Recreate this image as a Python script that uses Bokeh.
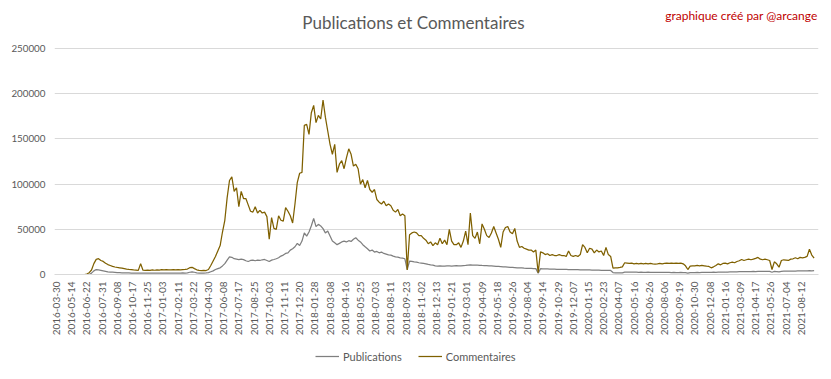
from bokeh.plotting import figure
from bokeh.layouts import column
from bokeh.models import Range1d, FixedTicker, Label, Legend, LegendItem, NumeralTickFormatter
from bokeh.embed import file_html
from bokeh.resources import INLINE
import math

# ---------------- data ----------------
tick_labels = [
    "2016-03-30", "2016-05-14", "2016-06-22", "2016-07-31", "2016-09-08", "2016-10-17",
    "2016-11-25", "2017-01-03", "2017-02-11", "2017-03-22", "2017-04-30", "2017-06-08",
    "2017-07-17", "2017-08-25", "2017-10-03", "2017-11-11", "2017-12-20", "2018-01-28",
    "2018-03-08", "2018-04-16", "2018-05-25", "2018-07-03", "2018-08-11", "2018-09-23",
    "2018-11-02", "2018-12-13", "2019-01-21", "2019-03-01", "2019-04-09", "2019-05-18",
    "2019-06-26", "2019-08-04", "2019-09-14", "2019-10-29", "2019-12-07", "2020-01-15",
    "2020-02-23", "2020-04-07", "2020-05-16", "2020-06-26", "2020-08-06", "2020-09-19",
    "2020-10-30", "2020-12-08", "2021-01-16", "2021-03-09", "2021-04-17", "2021-05-26",
    "2021-07-04", "2021-08-12",
]
TICK_EVERY = 39   # data points between two date labels
STEP = 6          # data points between two samples below

commentaires = [
    0, 0, 0, 0, 0, 0, 0, 0, 0, 0, 0, 0, 0,
    500, 2000, 5000, 12000, 16700, 17500, 15500, 14500, 12500, 11000, 10000, 9000, 8300,
    7800, 7400, 7000, 6500, 6000, 5600, 5300, 5000, 4800, 4600, 12000, 4700,
    4500, 4800, 4600, 5000, 4700, 5200, 4900, 5300, 5000, 5400, 5200, 5100, 5500, 5200, 5400, 5000,
    5300, 5600, 6000, 7500, 8000, 6500, 5200, 4500, 4300, 4600, 4400, 5500, 10000, 15000,
    20000, 26000, 32000, 47000, 60000, 85000, 104000, 108000, 92000, 96000, 75000, 92000, 84000,
    84000, 77000, 70000, 69000, 75000, 68000, 71000, 68000, 69000, 64000,
    39000, 63000, 51000, 50000, 65000, 60000, 59000, 74000, 70000, 65000,
    57000, 78000, 102000, 112000, 113000, 165000, 166000, 155000, 179000, 187000,
    168000, 176000, 172000, 193000, 174000, 159000, 144000, 133000, 144000, 113000,
    122000, 126000, 117000, 129000, 139000, 133000, 120000, 122000, 117000, 100000,
    105000, 96000, 104000, 94000, 91000, 94000, 83000, 80000, 78000, 81000,
    76000, 78000, 76000, 71000, 69000, 72000, 65000, 67000, 65000, 5000,
    44000, 46000, 47000, 46000, 43000, 43000, 40000, 38000, 34000, 36000,
    32000,
    35000, 33000, 40000, 34000, 38000, 33000, 50000, 37000, 33000, 33000,
    35000, 30000, 37000, 48000, 33000, 68000, 43000, 40000, 47000, 34000,
    56000, 50000, 43000, 41000, 46000, 53000, 46000, 39000, 30000, 47000,
    52000, 53000, 47000, 45000, 51000, 37000, 30000, 31000, 29000, 28000,
    27000, 27000, 25000, 27000, 2000, 25000, 24000, 22000, 23000, 21000,
    22000, 21000, 21000, 22000, 21000, 21000, 20000, 26000, 21000, 20000,
    21000, 20000, 22000, 33000, 30000, 24000, 29000, 28000, 24000, 27000,
    25000, 26000, 21000, 30000, 22000, 20000, 7000, 7400, 7400, 7800,
    8500,
    13000, 12600, 12200, 12600, 11800, 12200, 11800, 12200, 11800, 12200,
    11800, 12200, 11800, 11500, 11800, 12200, 11800, 12200, 12600, 12200,
    12600, 12200, 12600, 12200, 12600, 11800, 9600, 5500, 9200, 9600,
    9600, 10000, 9600, 10000, 9600, 9200, 8900, 7400, 8500, 10000,
    11800, 10700, 12200, 12600, 11800, 13000, 13700, 13000, 14400, 15200,
    16600, 15500, 16300, 17000, 16300, 17000, 17800, 18900, 17000, 16300,
    17000, 16300, 15500, 5500, 14000, 11800, 8100, 15500, 16300, 15900,
    15500, 17000, 17400, 18500, 17400, 18900, 18500, 18900, 20000, 28000,
    21500, 18000,
]

publications = [
    0, 0, 0, 0, 0, 0, 0, 0, 0, 0, 0, 0, 0, 0, 0,
    1500, 4000, 5500, 5000, 4500, 4000, 3500, 3000, 2700, 2500, 2300, 2100, 2000, 1900,
    1800, 1700, 1700, 1600, 1600, 1500, 1600, 1500, 1500, 1600, 1500, 1500, 1600, 1500,
    1500, 1600, 1500, 1500, 1600, 1600, 1500, 1600, 1500, 1500, 1600, 1700, 1600,
    1800, 2500, 3000, 2500, 1800, 1600, 1500, 1600, 1700, 2000, 3000, 4000, 5500,
    6500, 7400, 9500, 12000, 16000, 19500, 19000, 17500, 17000, 16500, 17000, 16500,
    15200, 14400, 15500, 15900, 15200, 15900, 15500, 16300, 16600, 15500,
    14400, 15900, 16600, 17400, 18500, 20400, 21500, 23300, 24000, 27000,
    28500, 30700, 34400, 32000, 37000, 46000, 42500, 47000, 54000, 62000,
    53000, 55500, 53700, 50700, 46000, 48000, 42500, 37000, 35000, 33000,
    34400, 36000, 37000, 36000, 37400, 36600, 38900, 40700, 38000, 36000,
    33000, 30700, 28500, 26000, 27000, 24800, 25500, 24000, 24800, 23300,
    22600, 21800, 21500, 20400, 19600, 19200, 18500, 18100, 17400, 5500,
    14800, 14400, 14000, 13700, 13000, 12600, 12200, 11800, 11100, 10700,
    10400,
    9600, 9400, 9500, 9300, 9400, 9600, 9500, 9400, 9600, 9700,
    9500, 9600, 9800, 10000, 10400, 10600, 10500, 10400, 10300, 10200,
    10000, 9900, 9800, 9600, 9500, 9300, 9100, 8900, 8700, 8500,
    8300, 8100, 7900, 7800, 7600, 7400, 7300, 7200, 7000, 6900,
    6800, 6700, 6600, 6500, 1500, 6400, 6300, 6200, 6100, 6000,
    6000, 5900, 5800, 5800, 5700, 5600, 5600, 5500, 5500, 5400,
    5300, 5300, 5200, 5200, 5100, 5000, 5000, 4900, 4900, 4800,
    4800, 4700, 4700, 4600, 4600, 4500, 2200, 1800, 1800, 1900,
    1900,
    2600, 2600, 2500, 2600, 2500, 2500, 2400, 2500, 2400, 2400, 2500, 2400, 2400,
    2300, 2400, 2300, 2300, 2400, 2300, 2300, 2200, 2300, 2200, 2200, 2300, 2200,
    2000, 1500, 2000,
    2200, 2200, 2300, 2200, 2300, 2300, 2400, 2300, 2400, 2500, 2400, 2500, 2600, 2500, 2600, 2700,
    2800, 2900, 3000, 3000, 3100, 3200, 3200, 3300, 3200, 3300, 3400, 3300, 3400, 3400, 3500, 3400,
    3500, 3500,
    2500, 3400, 3300, 3000,
    3500, 3600, 3600, 3700, 3700, 3800, 3800, 3900, 3900, 4000, 4000, 4100, 4200, 4100, 4200,
]

y_ticks = [0, 50000, 100000, 150000, 200000, 250000]

# ---------------- figure ----------------
FONT = "Lato"
GREY_TXT = "#595959"
C_PUB = "#7F7F7F"
C_COM = "#7F6000"

x_com = [i * STEP for i in range(len(commentaires))]
x_pub = [i * STEP for i in range(len(publications))]

W = 829
LEFT = 54
RIGHT = 11
FRAME_W = W - LEFT - RIGHT
PX_PER_POINT = 760 / 1950
X0 = -5
X1 = X0 + FRAME_W / PX_PER_POINT

# frame spans the full top of the figure so that title texts drawn inside it are not clipped
FRAME_H = 274
GRID_TOP_PX = 48
MAIN_H = 340
y_top = y_ticks[-1] * FRAME_H / (FRAME_H - GRID_TOP_PX)

p = figure(width=W, height=MAIN_H, output_backend="svg", toolbar_location=None,
           x_range=Range1d(X0, X1), y_range=Range1d(0, y_top),
           min_border_left=LEFT, min_border_right=RIGHT, min_border_top=0,
           min_border_bottom=MAIN_H - FRAME_H)
p.outline_line_color = None
p.background_fill_color = "white"
p.border_fill_color = "white"

p.line(x_pub, publications, line_color=C_PUB, line_width=1.25)
p.line(x_com, commentaires, line_color=C_COM, line_width=1.25)

# y axis
p.yaxis.ticker = FixedTicker(ticks=y_ticks)
p.yaxis.formatter = NumeralTickFormatter(format="0")
p.yaxis.axis_line_color = None
p.yaxis.major_tick_line_color = None
p.yaxis.minor_tick_line_color = None
p.yaxis.major_tick_out = 0
p.yaxis.major_tick_in = 0
p.yaxis.major_label_standoff = 9
p.yaxis.major_label_text_font = FONT
p.yaxis.major_label_text_font_size = "9.8px"
p.yaxis.major_label_text_color = GREY_TXT

p.ygrid.ticker = FixedTicker(ticks=y_ticks)
p.ygrid.grid_line_color = "#D9D9D9"
p.xgrid.visible = False

# x axis (date labels)
xt = [k * TICK_EVERY for k in range(len(tick_labels))]
p.xaxis.ticker = FixedTicker(ticks=xt)
p.xaxis.major_label_overrides = {t: lab for t, lab in zip(xt, tick_labels)}
p.xaxis.major_label_orientation = math.pi / 2
p.xaxis.axis_line_color = "#D9D9D9"
p.xaxis.major_tick_line_color = None
p.xaxis.minor_tick_line_color = None
p.xaxis.major_tick_out = 0
p.xaxis.major_tick_in = 0
p.xaxis.major_label_standoff = 7
p.xaxis.major_label_text_font = FONT
p.xaxis.major_label_text_font_size = "10px"
p.xaxis.major_label_text_color = GREY_TXT

# title and credit (inside the frame, above the top grid line)
p.add_layout(Label(x=359, y=FRAME_H - 22, x_units="screen", y_units="screen",
                   text="Publications et Commentaires", text_align="center",
                   text_baseline="middle", text_font=FONT, text_font_size="17px",
                   text_color=GREY_TXT))
p.add_layout(Label(x=FRAME_W - 1, y=FRAME_H - 15, x_units="screen", y_units="screen",
                   text="graphique créé par @arcange", text_align="right",
                   text_baseline="middle", text_font=FONT, text_font_size="12px",
                   text_color="#C00000"))

# legend strip under the axis (its frame is aligned with the main frame by the column)
LEG_H = 30
pl = figure(width=W, height=LEG_H, output_backend="svg", toolbar_location=None,
            x_range=Range1d(X0, X1), y_range=Range1d(-2, -1),
            min_border_left=0, min_border_right=0, min_border_top=0, min_border_bottom=0)
pl.axis.visible = False
pl.grid.visible = False
pl.outline_line_color = None
pl.background_fill_color = "white"
pl.border_fill_color = "white"
lp = pl.line(x_pub, publications, line_color=C_PUB, line_width=1.25)
lc = pl.line(x_com, commentaires, line_color=C_COM, line_width=1.25)
legend = Legend(items=[LegendItem(label="Publications", renderers=[lp]),
                       LegendItem(label="Commentaires", renderers=[lc])],
                location=(261, 4), orientation="horizontal",
                glyph_width=24, glyph_height=20, label_standoff=4, spacing=16,
                padding=0, margin=0, border_line_color=None, background_fill_alpha=0,
                label_text_font=FONT, label_text_font_size="11px",
                label_text_color=GREY_TXT)
pl.add_layout(legend)

layout = column(p, pl, spacing=0)
open("out.html", "w").write(file_html(layout, INLINE))
